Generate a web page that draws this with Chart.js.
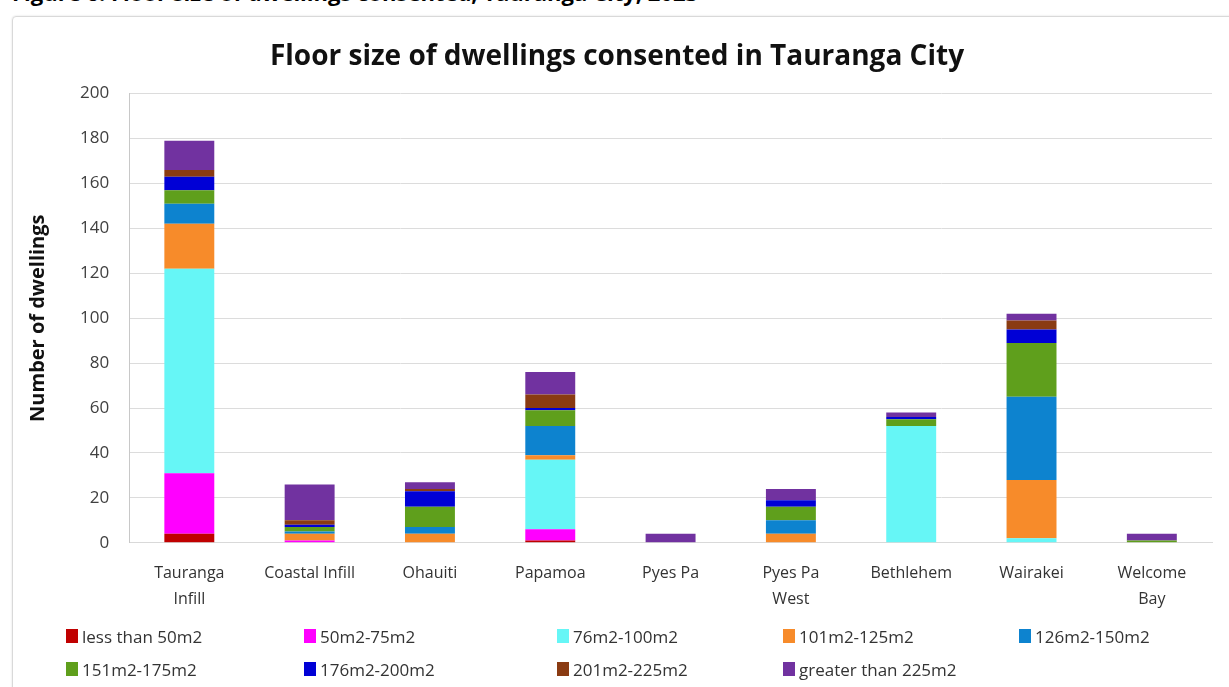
<!DOCTYPE html>
<html>
<head>
<meta charset="utf-8">
<script src="https://cdn.jsdelivr.net/npm/chart.js@4"></script>
<style>
    body { margin: 0; background: #fff; font-family: "Open Sans", sans-serif; }
    #wrap { position: relative; width: 1229px; height: 687px; overflow: hidden; }
    #caption { position: absolute; left: 12px; top: -23px; font: bold 22px "Open Sans", sans-serif; color: #000; white-space: nowrap; }
    #frame { position: absolute; left: 12px; top: 16px; width: 1225px; height: 680px; border: 1px solid #d9d9d9; border-radius: 4px; box-shadow: 0 0 2px rgba(0,0,0,0.15); }
    #scoreChart { position: absolute; left: 0; top: 0; }
    #legend { position: absolute; left: 66px; top: 625px; display: grid; grid-template-columns: 238px 253px 226px 236px 200px; row-gap: 11px; }
    .item { display: flex; align-items: center; font-size: 17px; color: #333; height: 22px; }
    .box { width: 12px; height: 14px; margin-right: 4px; }
</style>
</head>
<body>
<div id="wrap">
    <div id="caption">Figure 6: Floor size of dwellings consented, Tauranga City, 2023</div>
    <div id="frame"></div>
    <canvas id="scoreChart" width="1229" height="687"></canvas>
    <div id="legend"></div>
</div>
<script>
const areas = [['Tauranga', 'Infill'], 'Coastal Infill', 'Ohauiti', 'Papamoa', 'Pyes Pa', ['Pyes Pa', 'West'], 'Bethlehem', 'Wairakei', ['Welcome', 'Bay']];
const yTicks = [0, 20, 40, 60, 80, 100, 120, 140, 160, 180, 200];

const sizeBands = ['less than 50m2', '50m2-75m2', '76m2-100m2', '101m2-125m2', '126m2-150m2', '151m2-175m2', '176m2-200m2', '201m2-225m2', 'greater than 225m2'];
const bandColors = ['#c00000', '#ff00ff', '#66f6f6', '#f78b2a', '#0d83cf', '#5f9f1c', '#0000d6', '#8a3b12', '#7132a0'];

const lessThan50 = [4, 0, 0, 1, 0, 0, 0, 0, 0];
const from50to75 = [27, 1, 0, 5, 0, 0, 0, 0, 0];
const from76to100 = [91, 0, 0, 31, 0, 0, 52, 2, 0];
const from101to125 = [20, 3, 4, 2, 0, 4, 0, 26, 0];
const from126to150 = [9, 1, 3, 13, 0, 6, 0, 37, 0];
const from151to175 = [6, 2, 9, 7, 0, 6, 3, 24, 1];
const from176to200 = [6, 1, 7, 1, 0, 3, 1, 6, 0];
const from201to225 = [3, 2, 1, 6, 0, 0, 0, 4, 0];
const over225 = [13, 16, 3, 10, 4, 5, 2, 3, 3];

const seriesValues = [lessThan50, from50to75, from76to100, from101to125, from126to150, from151to175, from176to200, from201to225, over225];

const datasets = sizeBands.map((band, i) => ({
    label: band,
    data: seriesValues[i],
    backgroundColor: bandColors[i],
    categoryPercentage: 0.83,
    barPercentage: 0.5
}));

const legendEl = document.getElementById('legend');
datasets.forEach(ds => {
    const item = document.createElement('div');
    item.className = 'item';
    item.innerHTML = `<span class="box" style="background:${ds.backgroundColor}"></span>${ds.label}`;
    legendEl.appendChild(item);
});

const ctx = document.getElementById('scoreChart').getContext('2d');
new Chart(ctx, {
    type: 'bar',
    data: {
        labels: areas,
        datasets: datasets
    },
    options: {
        responsive: false,
        animation: false,
        layout: {
            padding: { top: 40, left: 22, right: 17, bottom: 65 }
        },
        plugins: {
            legend: { display: false },
            tooltip: { enabled: false },
            title: {
                display: true,
                text: 'Floor size of dwellings consented in Tauranga City',
                color: '#111',
                font: { family: 'Open Sans', size: 28, weight: 'bold' },
                padding: { top: 0, bottom: 20 }
            }
        },
        scales: {
            x: {
                stacked: true,
                grid: { display: false },
                border: { color: '#d9d9d9' },
                ticks: {
                    color: '#333',
                    font: { family: 'Open Sans', size: 16, lineHeight: 1.6 },
                    padding: 10,
                    maxRotation: 0
                }
            },
            y: {
                stacked: true,
                min: 0,
                max: 200,
                afterBuildTicks: axis => {
                    axis.ticks = yTicks.map(v => ({ value: v }));
                },
                grid: {
                    color: '#dcdcdc',
                    drawTicks: false
                },
                border: { color: '#c8c8c8' },
                ticks: {
                    color: '#404040',
                    font: { family: 'Open Sans', size: 17 },
                    padding: 20
                },
                title: {
                    display: true,
                    text: 'Number of dwellings',
                    color: '#111',
                    font: { family: 'Open Sans', size: 20, weight: 'bold' },
                    padding: { bottom: 10 }
                }
            }
        }
    }
});
</script>
</body>
</html>
